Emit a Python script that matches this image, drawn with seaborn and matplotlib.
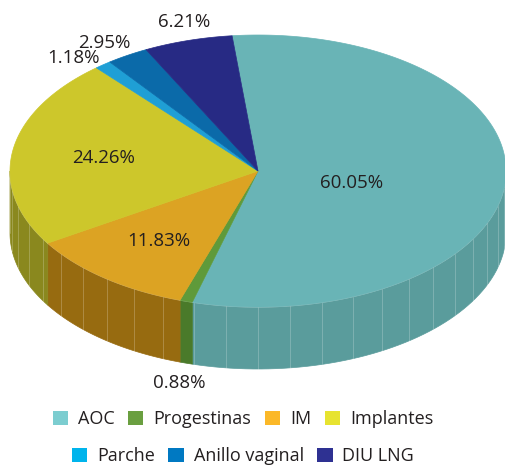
import numpy as np
import matplotlib
matplotlib.use("Agg")
import matplotlib.pyplot as plt
from matplotlib.patches import Polygon, Patch
import seaborn as sns

# data
labels = ["AOC", "Progestinas", "IM", "Implantes", "Parche", "Anillo vaginal", "DIU LNG"]
values = [60.05, 0.88, 11.83, 24.26, 1.18, 2.95, 6.21]
pct_text = ["60.05%", "0.88%", "11.83%", "24.26%", "1.18%", "2.95%", "6.21%"]

top_colors = ["#69b4b6", "#5f9a3a", "#dca323", "#cdc72b", "#1f9fd5", "#0b6aa9", "#272a84"]
wall_colors = ["#5a9c9c", "#4a7a2a", "#976b10", "#8a881e", "#1780ad", "#08558a", "#1e206a"]
legend_colors = ["#7ccdd0", "#6a9f40", "#fbb828", "#e7e330", "#00b4ec", "#0079c2", "#2e3192"]

sns.set_theme(style="white")
plt.rcParams["font.family"] = ["Open Sans", "DejaVu Sans"]

# geometry of the tilted pie (pixel space)
cx, cy, rx, ry, depth = 258, 171, 248, 136, 62
start = 96.0

def pt(theta, fx=1.0, fy=None, dz=0.0):
    fy = fx if fy is None else fy
    t = np.radians(theta)
    return cx + fx * rx * np.cos(t), cy - fy * ry * np.sin(t) + dz

fig = plt.figure(figsize=(5.06, 4.68), dpi=100)
ax = fig.add_axes([0, 0, 1, 1])
ax.set_xlim(0, 506)
ax.set_ylim(468, 0)
ax.axis("off")

spans = np.array(values) / np.sum(values) * 360.0
ends = start - np.cumsum(spans)
starts = ends + spans

# side walls (front half only)
for i in range(len(values)):
    a, b = starts[i], ends[i]
    for k in range(-2, 3):
        lo, hi = max(b, -180 + 360 * k), min(a, 360 * k)
        if hi <= lo:
            continue
        th = np.linspace(lo, hi, 60)
        top = [pt(t) for t in th]
        bot = [pt(t, dz=depth) for t in th[::-1]]
        ax.add_patch(Polygon(top + bot, closed=True, facecolor=wall_colors[i],
                             edgecolor=wall_colors[i], lw=0.5, zorder=1))
        # facet lines
        for t in np.arange(np.ceil(lo / 7.5) * 7.5, hi, 7.5):
            x0, y0 = pt(t)
            ax.plot([x0, x0], [y0, y0 + depth], color="white", alpha=0.25, lw=0.6, zorder=2)
        tx, ty = zip(*top)
        ax.plot(tx, ty, color="white", alpha=0.45, lw=0.8, zorder=2)

# top face
for i in range(len(values)):
    th = np.linspace(starts[i], ends[i], max(int(spans[i] * 2), 4))
    poly = [(cx, cy)] + [pt(t) for t in th]
    ax.add_patch(Polygon(poly, closed=True, facecolor=top_colors[i],
                         edgecolor=top_colors[i], lw=0.5, zorder=3))

# percentage labels (radial factors along x and y)
label_fx = [0.38, 1.10, 0.65, 0.63, 1.19, 1.18, 1.06]
label_fy = [1.08, 1.15, 0.655, 0.63, 1.06, 1.11, 1.14]
for i in range(len(values)):
    mid = (starts[i] + ends[i]) / 2
    x, y = pt(mid, label_fx[i], label_fy[i])
    if label_fx[i] > 1 and np.sin(np.radians(mid)) < 0:
        y += depth
    ax.text(x, y, pct_text[i], ha="center", va="center", fontsize=13.5,
            color="#231f20", zorder=5)

# legend in two rows
handles = [Patch(facecolor=c, edgecolor="none") for c in legend_colors]
leg_kw = dict(frameon=False, fontsize=13, handlelength=0.85, handleheight=0.85,
              handletextpad=0.55, columnspacing=0.75, labelcolor="#231f20")
fig.legend(handles[:4], labels[:4], ncol=4, loc="center",
           bbox_to_anchor=(0.48, 1 - 419 / 468), **leg_kw)
fig.legend(handles[4:], labels[4:], ncol=3, loc="center",
           bbox_to_anchor=(0.48, 1 - 456 / 468), **leg_kw)

fig.savefig("out.png", dpi=100)
